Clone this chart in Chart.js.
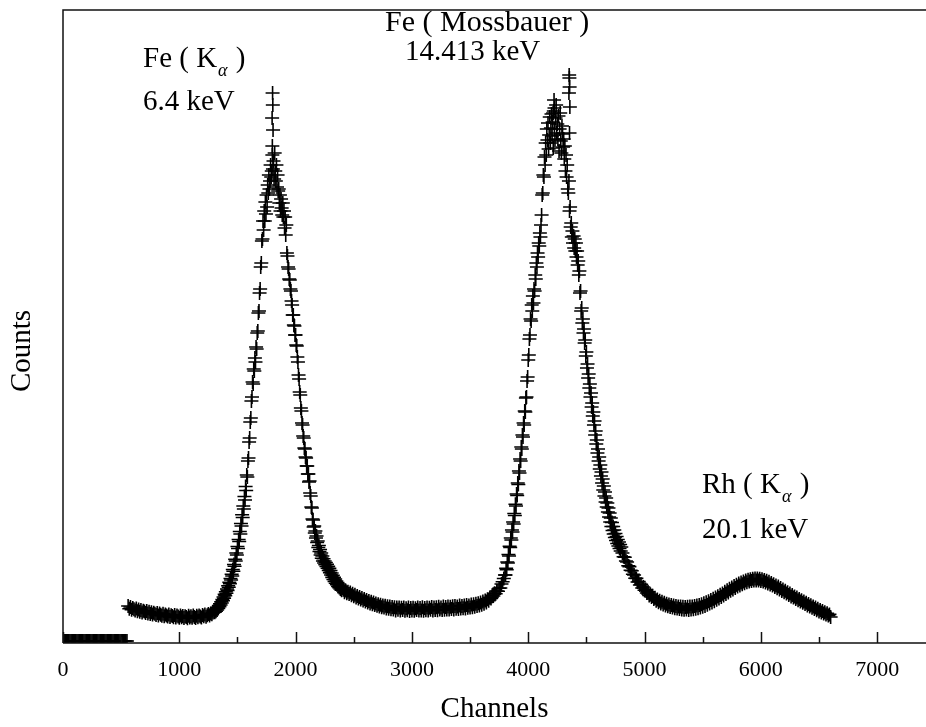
<!DOCTYPE html>
<html>
<head>
<meta charset="utf-8">
<style>
  html, body { margin: 0; padding: 0; background: #fff; }
  canvas { display: block; }
</style>
<script src="https://cdn.jsdelivr.net/npm/chart.js@4.4.0/dist/chart.umd.min.js"></script>
</head>
<body>
<canvas id="spectrum" width="926" height="727"></canvas>
<script>
// ---- Spectrum data: each segment = first channel, channel step, counts per bin ----

// below the discriminator threshold nothing is recorded
const belowThresholdStart = 0, belowThresholdStep = 10;
const belowThresholdCounts = [
  0,0,0,0,0,0,0,0,0,0, 0,0,0,0,0,0,0,0,0,0, 0,0,0,0,0,0,0,0,0,0,
  0,0,0,0,0,0,0,0,0,0, 0,0,0,0,0,0,0,0,0,0, 0,0,0,0,0,0];

// low-energy background
const lowBackgroundStart = 560, lowBackgroundStep = 10;
const lowBackgroundCounts = [
  350,322,340,312,330,318,305,326,298,315,
  292,310,286,302,296,280,300,276,292,270,
  288,266,282,272,260,280,256,274,262,252,
  272,248,266,254,244,264,240,258,250,238,
  260,236,254,244,232,256,238,250,230,248,
  240,228,252,236,248,232,254,240,230,252,
  238,256,244,236,260,248,264,242,258,270,
  256,276,268,286,294];

// Fe K-alpha line (6.4 keV)
const feKaStart = 1305, feKaStep = 5;
const feKaCounts = [
  288,312,298,322,310,338,326,355,342,372,
  360,392,380,414,402,440,428,466,452,492,
  478,520,506,552,538,588,572,625,610,668,
  650,715,698,765,748,818,800,880,860,945,
  925,1015,995,1095,1070,1175,1150,1262,1235,1350,
  1320,1445,1410,1545,1505,1660,1640,1800,1830,1990,
  2030,2190,2230,2400,2440,2590,2570,2720,2700,2830,
  2790,2940,2920,3080,3100,3280,3300,3480,3520,3740,
  3780,4000,4020,4200,4110,4300,4200,4390,4270,4460,
  4340,4560,4480,4660,4520,4600,4760,4640,4700,4860,
  4720,4800,4620,4880,4700,4600,4760,4540,4660,4500,
  4520,4380,4460,4300,4420,4330,4260,4380,4240,4300,
  4130,4240,4060,4160,3880,3850,3740,3720,3620,3610,
  3520,3500,3400,3360,3260,3260,3160,3150,3060,3060,
  2960,2950,2840,2790,2660,2620,2490,2460,2330,2300,
  2180,2160,2050,2030,1930,1920,1840,1830,1750,1750,
  1670,1670,1590,1600,1480,1450,1340,1330,1220,1210,
  1140,1150,1080,1100,1030,1050,985,1000,935,955,
  895,915,860,880,828,850,800,822,780,800,
  762,785,745,768,728,748,706,728,684,705,
  660,680,636,658,615,638,596,620,578,600,
  562,584,546,570,534,556,520,544,508,530];

// valley between the two iron lines
const valleyStart = 2410, valleyStep = 10;
const valleyCounts = [
  512,488,505,478,492,470,484,458,472,448,
  462,436,450,426,440,414,430,404,420,396,
  410,386,400,376,392,368,384,360,376,352,
  368,344,362,338,356,334,352,326,348,322,
  344,318,340,316,338,306,336,312,334,304,
  332,310,336,302,328,308,334,300,330,306,
  332,302,328,310,336,304,330,306,338,302,
  330,308,336,304,332,312,340,306,334,310,
  338,308,342,314,336,310,344,312,340,316,
  346,314,342,320,348,316,350,322,346,320,
  354,324,350,328,356,326,360,332,356,334,
  364,338,368,342,372,350,378,356,384,362,
  394,372,404,386,418,402,434,426,458,450,
  478,472,500,498,528,530,570,592,625,660];

// Fe Mossbauer gamma line (14.413 keV)
const feMossStart = 3805, feMossStep = 5;
const feMossCounts = [
  660,728,712,790,780,865,850,948,935,1030,
  1010,1110,1090,1190,1170,1275,1255,1368,1350,1470,
  1455,1580,1565,1700,1680,1820,1800,1940,1920,2060,
  2040,2180,2160,2300,2290,2430,2440,2600,2640,2810,
  2860,3020,3060,3220,3200,3360,3300,3450,3380,3520,
  3500,3660,3620,3780,3740,3880,3840,3980,3950,4080,
  4040,4160,4260,4460,4480,4660,4640,4840,4760,4980,
  4860,5120,5010,5180,4920,5060,5240,4980,5130,5270,
  5050,5190,4930,5300,5120,5010,5230,5360,5080,5170,
  5020,5250,4900,5120,5280,5000,4880,5150,5070,4940,
  5020,4820,4950,4700,4860,4640,4760,4520,4480,4600,
  4300,4340,4140,4180,4040,4100,3980,4050,3930,4020,
  3900,3980,3840,3900,3760,3800,3660,3700,3480,3500,
  3300,3330,3180,3220,3080,3120,2980,3010,2850,2890,
  2730,2770,2630,2670,2530,2570,2440,2480,2340,2380,
  2250,2290,2160,2200,2060,2100,1970,2010,1880,1920,
  1800,1840,1720,1760,1650,1690,1580,1620,1510,1550,
  1450,1490,1390,1430,1340,1380,1290,1330,1240,1280,
  1190,1230,1145,1185,1105,1145,1070,1110,1035,1075,
  1005,1045,975,1015,950,990,925,965,900,940];

// high-energy tail with the Rh K-alpha line (20.1 keV)
const rhKaStart = 4810, rhKaStep = 10;
const rhKaCounts = [
  880,842,838,800,790,752,744,708,702,668,
  660,628,626,590,594,560,566,530,540,508,
  514,480,492,456,468,440,452,420,432,402,
  414,388,402,374,392,364,382,356,372,348,
  366,340,360,334,354,328,350,326,346,320,
  344,316,342,312,340,314,342,310,344,316,
  346,318,350,322,354,328,360,334,368,342,
  378,350,388,362,398,374,410,386,422,398,
  434,412,448,426,462,440,476,456,492,470,
  508,486,522,502,536,516,550,530,562,544,
  574,556,586,568,596,578,604,588,612,594,
  618,600,622,604,624,606,624,604,622,600,
  618,594,610,586,602,576,592,566,580,554,
  568,540,556,528,544,514,530,500,516,488,
  502,474,488,460,474,446,460,434,446,420,
  434,408,420,396,408,382,394,370,382,356,
  370,344,358,332,346,320,334,308,322,296,
  310,286,300,274,288,264,278,254,266,240];

// isolated high bins at the line maxima
const spikeChannels = [1798,1800,1802,1804,1806, 4214,4222,4226, 4350,4352,4354,4355,4356,4358];
const spikeCounts   = [5230,4950,5480,5360,5110, 5280,5410,5330, 5480,5660,5630,5080,5540,5340];

// axis ticks
const majorTicks = [0,1000,2000,3000,4000,5000,6000,7000];
const minorTicks = [500,1500,2500,3500,4500,5500,6500];
const channelMax = 7420;
const countsMin = -20, countsMax = 6310;

// ---- build the point list ----
function segment(start, step, counts) {
  return counts.map((c, i) => ({ x: start + i * step, y: c }));
}
const points = [].concat(
  segment(belowThresholdStart, belowThresholdStep, belowThresholdCounts),
  segment(lowBackgroundStart, lowBackgroundStep, lowBackgroundCounts),
  segment(feKaStart, feKaStep, feKaCounts),
  segment(valleyStart, valleyStep, valleyCounts),
  segment(feMossStart, feMossStep, feMossCounts),
  segment(rhKaStart, rhKaStep, rhKaCounts),
  spikeChannels.map((ch, i) => ({ x: ch, y: spikeCounts[i] }))
);

const SERIF = "'Liberation Serif', 'Times New Roman', serif";
Chart.defaults.font.family = SERIF;
Chart.defaults.color = '#000';

// frame, inward tick marks, peak labels and the y title
const decorations = {
  id: 'decorations',
  afterDraw(chart) {
    const { ctx, chartArea: a, scales: { x } } = chart;
    ctx.save();
    ctx.strokeStyle = '#111';
    ctx.lineWidth = 1.5;
    ctx.beginPath();
    ctx.moveTo(a.left, a.bottom); ctx.lineTo(a.right + 2, a.bottom);
    ctx.moveTo(a.left, a.bottom); ctx.lineTo(a.left, a.top);
    ctx.lineTo(a.right + 2, a.top);
    ctx.stroke();

    ctx.beginPath();
    majorTicks.forEach(v => {
      const px = Math.round(x.getPixelForValue(v)) + 0.5;
      ctx.moveTo(px, a.bottom); ctx.lineTo(px, a.bottom - 11);
    });
    minorTicks.forEach(v => {
      const px = Math.round(x.getPixelForValue(v)) + 0.5;
      ctx.moveTo(px, a.bottom); ctx.lineTo(px, a.bottom - 6);
    });
    ctx.stroke();

    ctx.fillStyle = '#000';
    ctx.textBaseline = 'alphabetic';
    ctx.textAlign = 'left';
    const line = (txt, px, py, size) => { ctx.font = (size || 29) + 'px ' + SERIF; ctx.fillText(txt, px, py); };
    const kAlpha = (pre, px, py) => {
      ctx.font = '29px ' + SERIF;
      ctx.fillText(pre, px, py);
      let w = ctx.measureText(pre).width + 1;
      ctx.font = 'italic 18px ' + SERIF;
      ctx.fillText('\u03b1', px + w, py + 9);
      w += ctx.measureText('\u03b1').width + 1;
      ctx.font = '29px ' + SERIF;
      ctx.fillText(' )', px + w, py);
    };
    kAlpha('Fe ( K', 143, 67);
    line('6.4 keV', 143, 110);
    line('Fe ( Mossbauer )', 385, 31, 30);
    line('14.413 keV', 405, 60);
    kAlpha('Rh ( K', 702, 493);
    line('20.1 keV', 702, 538);

    ctx.translate(22, 351);
    ctx.rotate(-Math.PI / 2);
    ctx.textAlign = 'center';
    ctx.textBaseline = 'middle';
    ctx.font = '29px ' + SERIF;
    ctx.fillText('Counts', 0, 0);
    ctx.restore();
  }
};

new Chart(document.getElementById('spectrum'), {
  type: 'scatter',
  data: {
    datasets: [{
      data: points,
      pointStyle: 'cross',
      pointRadius: 7,
      pointBorderWidth: 1.6,
      borderColor: '#000',
      backgroundColor: '#000',
      clip: 0
    }]
  },
  options: {
    responsive: false,
    devicePixelRatio: 1,
    animation: false,
    layout: { autoPadding: false, padding: { left: 63, right: 0, top: 10, bottom: 0 } },
    plugins: { legend: { display: false }, tooltip: { enabled: false } },
    scales: {
      x: {
        type: 'linear',
        min: 0,
        max: channelMax,
        afterBuildTicks: s => { s.ticks = majorTicks.map(v => ({ value: v })); },
        afterFit: s => { s.height = 84; s.paddingLeft = 0; s.paddingRight = 0; },
        grid: { display: false },
        border: { display: false },
        ticks: { font: { size: 22 }, padding: 6, maxRotation: 0, autoSkip: false,
                 callback: v => String(v) },
        title: { display: true, text: 'Channels', font: { size: 29 }, padding: { top: 0, bottom: 0 } }
      },
      y: {
        display: false,
        min: countsMin,
        max: countsMax
      }
    }
  },
  plugins: [decorations]
});
</script>
</body>
</html>
